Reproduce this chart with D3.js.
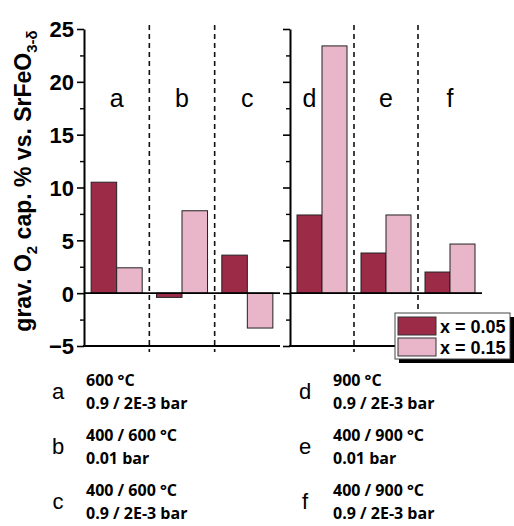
<!DOCTYPE html>
<html>
<head>
<meta charset="utf-8">
<script src="https://cdn.jsdelivr.net/npm/d3@7"></script>
<style>
  body { margin: 0; background: #fff; }
  svg { display: block; }
</style>
</head>
<body>
<div id="chart"></div>
<script>
// ---------- data ----------
const panelLeft = ["a", "b", "c"];
const panelRight = ["d", "e", "f"];
const seriesNames = ["x = 0.05", "x = 0.15"];
const valuesX005 = [10.5, -0.4, 3.6, 7.4, 3.8, 2.0];
const valuesX015 = [2.4, 7.8, -3.3, 23.4, 7.4, 4.65];
const yTicks = [-5, 0, 5, 10, 15, 20, 25];
const yMinorTicks = [-2.5, 2.5, 7.5, 12.5, 17.5, 22.5];
const noteLetters = ["a", "b", "c", "d", "e", "f"];
const noteLine1 = ["600 °C", "400 / 600 °C", "400 / 600 °C", "900 °C", "400 / 900 °C", "400 / 900 °C"];
const noteLine2 = ["0.9 / 2E-3 bar", "0.01 bar", "0.9 / 2E-3 bar", "0.9 / 2E-3 bar", "0.01 bar", "0.9 / 2E-3 bar"];

const colors = ["#9c2b48", "#e9b5c8"];
const w = 514, h = 526;

const svg = d3.select("#chart").append("svg")
  .attr("width", w).attr("height", h)
  .style("font-family", "Arial, 'Liberation Sans', sans-serif");

// ---------- scales ----------
const y = d3.scaleLinear().domain([-5, 25]).range([346, 29]);

const panels = [
  { cats: panelLeft, range: [84, 280], offset: 0 },
  { cats: panelRight, range: [290, 482], offset: 3 }
];

panels.forEach((p, pi) => {
  const x = d3.scaleBand().domain(p.cats).range(p.range).padding(0);
  const xs = d3.scaleBand().domain(seriesNames).range([0, x.bandwidth()])
    .paddingInner(0).paddingOuter(0.28);

  const g = svg.append("g");

  // dashed separators
  g.selectAll("line.sep")
    .data(p.cats.slice(1))
    .enter().append("line")
    .attr("x1", (d) => x(d)).attr("x2", (d) => x(d))
    .attr("y1", 25).attr("y2", 352)
    .attr("stroke", "#111").attr("stroke-width", 1.6)
    .attr("stroke-dasharray", "5,4");

  // bars
  p.cats.forEach((c, i) => {
    const vals = [valuesX005[p.offset + i], valuesX015[p.offset + i]];
    g.selectAll(null)
      .data(vals)
      .enter().append("rect")
      .attr("x", (d, k) => x(c) + xs(seriesNames[k]))
      .attr("width", xs.bandwidth())
      .attr("y", (d) => y(Math.max(0, d)))
      .attr("height", (d) => Math.abs(y(d) - y(0)))
      .attr("fill", (d, k) => colors[k])
      .attr("stroke", "#222").attr("stroke-width", 1);
  });

  // group letters (moved over the first bar when the second bar reaches them)
  const labelY = 107;
  g.selectAll("text.cat")
    .data(p.cats)
    .enter().append("text")
    .attr("x", (d, i) => {
      const tall = y(valuesX015[p.offset + i]) < labelY;
      return tall ? x(d) + xs(seriesNames[0]) + xs.bandwidth() / 2 : x(d) + x.bandwidth() / 2;
    })
    .attr("y", labelY)
    .attr("text-anchor", "middle")
    .style("font-size", "25px")
    .text((d) => d);

  // zero line
  g.append("line")
    .attr("x1", p.range[0]).attr("x2", p.range[1])
    .attr("y1", y(0)).attr("y2", y(0))
    .attr("stroke", "#000").attr("stroke-width", 1.6);

  // y axis
  const yAxis = d3.axisLeft(y).tickValues(yTicks).tickSize(7).tickSizeOuter(0);
  if (pi === 1) yAxis.tickFormat("");
  const ya = g.append("g")
    .attr("transform", "translate(" + p.range[0] + ",0)")
    .call(yAxis);
  ya.select(".domain").attr("stroke-width", 2);
  ya.selectAll(".tick line").attr("stroke-width", 1.6);
  ya.selectAll("text")
    .style("font-size", "22px").style("font-weight", "bold")
    .attr("x", -10).attr("dy", "0.36em");

  g.append("g")
    .attr("transform", "translate(" + p.range[0] + ",0)")
    .call(d3.axisLeft(y).tickValues(yMinorTicks).tickSize(4).tickSizeOuter(0).tickFormat(""))
    .call((s) => s.select(".domain").remove())
    .selectAll(".tick line").attr("stroke-width", 1.4);

  // bottom axis line
  g.append("line")
    .attr("x1", p.range[0] - 1).attr("x2", p.range[1])
    .attr("y1", y(-5)).attr("y2", y(-5))
    .attr("stroke", "#000").attr("stroke-width", 2);
});

// ---------- y label ----------
svg.append("text")
  .attr("transform", "translate(31,181) rotate(-90)")
  .attr("text-anchor", "middle")
  .style("font-size", "23px").style("font-weight", "bold")
  .call((t) => {
    t.append("tspan").text("grav. O");
    t.append("tspan").attr("dy", 6).style("font-size", "15px").text("2");
    t.append("tspan").attr("dy", -6).text(" cap. % vs. SrFeO");
    t.append("tspan").attr("dy", 6).style("font-size", "15px").text("3-δ");
  });

// ---------- legend ----------
const lg = svg.append("g").attr("transform", "translate(395,313)");
lg.append("rect").attr("x", 4).attr("y", 4).attr("width", 116).attr("height", 46).attr("fill", "#000");
lg.append("rect").attr("x", 0).attr("y", 0).attr("width", 115).attr("height", 46)
  .attr("fill", "#fff").attr("stroke", "#444").attr("stroke-width", 1);
seriesNames.forEach((s, k) => {
  lg.append("rect").attr("x", 3).attr("y", 4 + k * 21).attr("width", 38).attr("height", 18)
    .attr("fill", colors[k]).attr("stroke", "#333").attr("stroke-width", 1);
  lg.append("text").attr("x", 45).attr("y", 19.5 + k * 21)
    .style("font-size", "18px").style("font-weight", "bold").text(s);
});

// ---------- notes ----------
const notes = svg.append("g");
noteLetters.forEach((l, i) => {
  const col = i < 3 ? 0 : 1;
  const row = i % 3;
  const lx = col === 0 ? 58 : 305;
  const tx = col === 0 ? 86 : 333;
  const base = 386 + row * 55;
  notes.append("text").attr("x", lx).attr("y", base + 13)
    .attr("text-anchor", "middle").style("font-size", "22px").text(l);
  notes.append("text").attr("x", tx).attr("y", base)
    .style("font-family", "'Open Sans', 'Noto Sans', sans-serif")
    .style("font-size", "16px").style("font-weight", "bold").text(noteLine1[i]);
  notes.append("text").attr("x", tx).attr("y", base + 23)
    .style("font-family", "'Open Sans', 'Noto Sans', sans-serif")
    .style("font-size", "16px").style("font-weight", "bold").text(noteLine2[i]);
});
</script>
</body>
</html>
